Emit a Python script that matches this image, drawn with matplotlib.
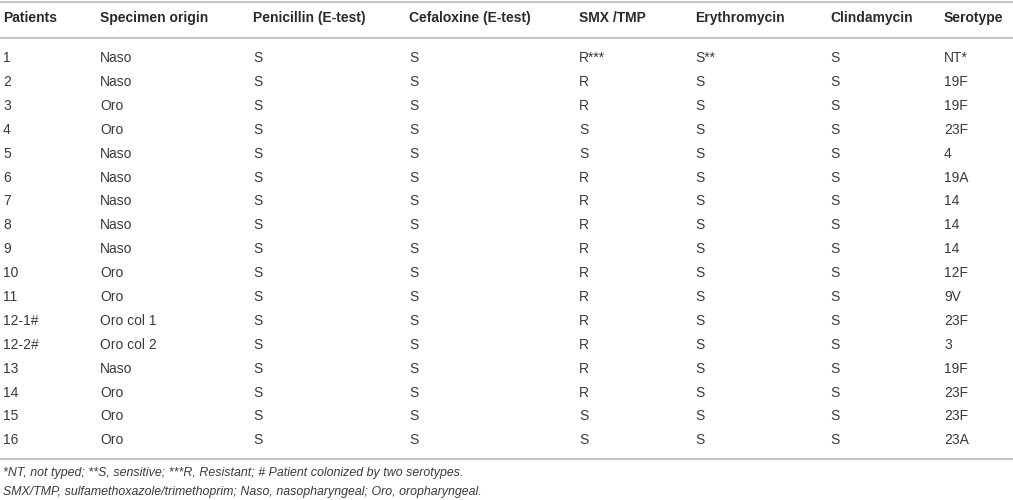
import matplotlib
matplotlib.use("Agg")
import matplotlib.pyplot as plt

plt.rcParams['font.family'] = ['Liberation Sans', 'DejaVu Sans']

headers = ["Patients", "Specimen origin", "Penicillin (E-test)", "Cefaloxine (E-test)",
           "SMX /TMP", "Erythromycin", "Clindamycin", "Serotype"]
patients = ["1", "2", "3", "4", "5", "6", "7", "8", "9", "10", "11", "12-1#", "12-2#",
            "13", "14", "15", "16"]
origin = ["Naso", "Naso", "Oro", "Oro", "Naso", "Naso", "Naso", "Naso", "Naso", "Oro", "Oro",
          "Oro col 1", "Oro col 2", "Naso", "Oro", "Oro", "Oro"]
penicillin = ["S"] * 17
cefaloxine = ["S"] * 17
smx_tmp = ["R***", "R", "R", "S", "S", "R", "R", "R", "R", "R", "R", "R", "R", "R", "R", "S", "S"]
erythromycin = ["S**"] + ["S"] * 16
clindamycin = ["S"] * 17
serotype = ["NT*", "19F", "19F", "23F", "4", "19A", "14", "14", "14", "12F", "9V", "23F", "3",
            "19F", "23F", "23F", "23A"]
footnotes = ["*NT, not typed; **S, sensitive; ***R, Resistant; # Patient colonized by two serotypes.",
             "SMX/TMP, sulfamethoxazole/trimethoprim; Naso, nasopharyngeal; Oro, oropharyngeal."]

columns = [patients, origin, penicillin, cefaloxine, smx_tmp, erythromycin, clindamycin, serotype]
col_x = [3, 100, 253, 409, 579, 695, 830, 944]

W, H = 1013, 500
fig = plt.figure(figsize=(W / 100, H / 100), dpi=100)
ax = fig.add_axes([0, 0, 1, 1])
ax.set_xlim(0, W)
ax.set_ylim(H, 0)
ax.axis('off')

txt = '#3a3a3a'
line_c = '#c4c4c4'
fs = 10.0

for x, h in zip(col_x, headers):
    ax.text(x, 18, h, fontsize=fs, fontweight='bold', color='#2a2a2a', va='center', ha='left')

row0, step = 58, 23.9
for x, col in zip(col_x, columns):
    for i, v in enumerate(col):
        ax.text(x, row0 + i * step, v, fontsize=fs, color=txt, va='center', ha='left')

for y in (1.5, 37.5, 459):
    ax.plot([0, W], [y, y], color=line_c, lw=1.5, solid_capstyle='butt')

for i, f in enumerate(footnotes):
    ax.text(3, 473 + i * 18.5, f, fontsize=8.9, style='italic', color=txt, va='center', ha='left')

fig.savefig('out.png', dpi=100)
